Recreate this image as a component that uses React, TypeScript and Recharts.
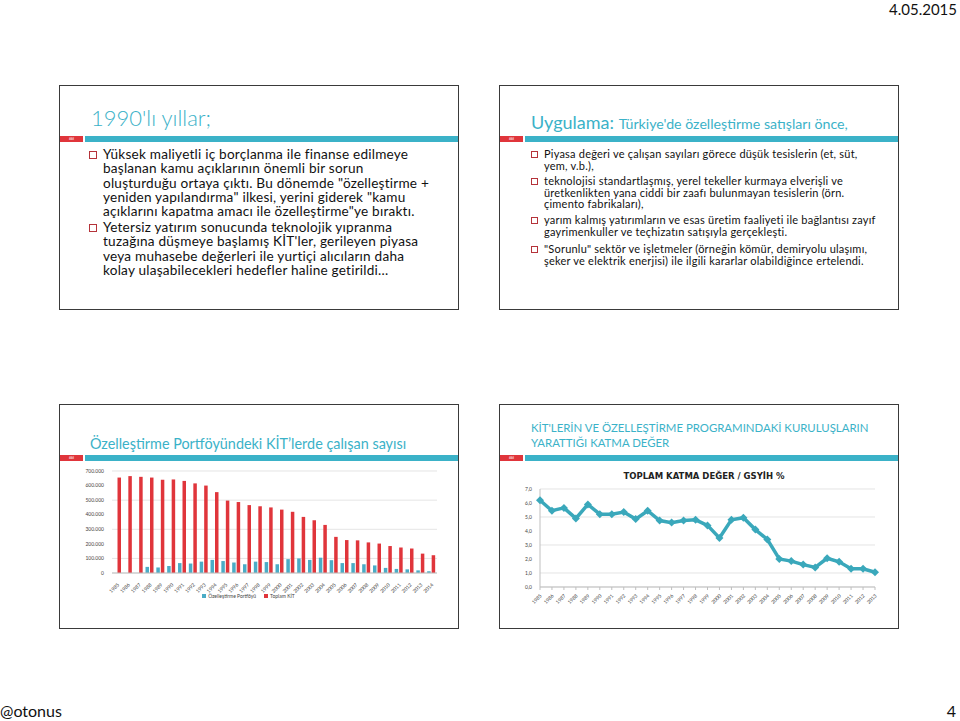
import React from 'react';
import {
  BarChart,
  Bar,
  LineChart,
  Line,
  XAxis,
  YAxis,
  CartesianGrid,
  Legend,
} from 'recharts';

// Çalışan sayısı (1985-2014)
const years1 = [
  '1985', '1986', '1987', '1988', '1989', '1990', '1991', '1992', '1993', '1994',
  '1995', '1996', '1997', '1998', '1999', '2000', '2001', '2002', '2003', '2004',
  '2005', '2006', '2007', '2008', '2009', '2010', '2011', '2012', '2013', '2014',
];
const portfoy = [
  0, 0, 0, 42000, 38000, 48000, 68000, 65000, 78000, 90000,
  82000, 72000, 60000, 78000, 75000, 60000, 95000, 100000, 90000, 105000,
  88000, 68000, 68000, 60000, 52000, 35000, 28000, 25000, 18000, 12000,
];
const toplamKit = [
  655000, 665000, 660000, 655000, 640000, 642000, 632000, 615000, 600000, 555000,
  497000, 487000, 466000, 458000, 450000, 435000, 420000, 385000, 362000, 330000,
  248000, 226000, 224000, 210000, 202000, 185000, 175000, 168000, 133000, 122000,
];
const yTicks1 = [0, 100000, 200000, 300000, 400000, 500000, 600000, 700000];

// Katma değer / GSYİH % (1985-2013)
const years2 = [
  '1985', '1986', '1987', '1988', '1989', '1990', '1991', '1992', '1993', '1994',
  '1995', '1996', '1997', '1998', '1999', '2000', '2001', '2002', '2003', '2004',
  '2005', '2006', '2007', '2008', '2009', '2010', '2011', '2012', '2013',
];
const katmaDeger = [
  6.2, 5.45, 5.65, 4.9, 5.9, 5.2, 5.2, 5.35, 4.85, 5.45,
  4.75, 4.6, 4.75, 4.8, 4.4, 3.5, 4.8, 4.95, 4.1, 3.4,
  2.0, 1.85, 1.6, 1.4, 2.05, 1.8, 1.3, 1.3, 1.05,
];
const yTicks2 = [0, 1, 2, 3, 4, 5, 6, 7];

const barData = years1.map((y, i) => ({ year: y, portfoy: portfoy[i], toplam: toplamKit[i] }));
const lineData = years2.map((y, i) => ({ year: y, value: katmaDeger[i] }));

const TEAL = '#3bb2c8';
const RED = '#e0353b';
const BODY_FONT = 'Lato, "Open Sans", sans-serif';

const RotTick = ({ x, y, payload }: any) => (
  <g transform={`translate(${x},${y + 2})`}>
    <text transform="rotate(-45)" textAnchor="end" fontSize={5} fill="#444" dy={3}>
      {payload.value}
    </text>
  </g>
);

const Diamond = ({ cx, cy, index }: any) => (
  <polygon
    key={`d-${index}`}
    points={`${cx},${cy - 4} ${cx + 4},${cy} ${cx},${cy + 4} ${cx - 4},${cy}`}
    fill="#3aa8bb"
  />
);

const BarLegend = () => (
  <div style={{ display: 'flex', justifyContent: 'center', gap: 8, fontSize: 5, color: '#444', fontFamily: BODY_FONT }}>
    <span><span style={{ display: 'inline-block', width: 4, height: 4, background: '#4bacc6', marginRight: 2 }} />Özelleştirme Portföyü</span>
    <span><span style={{ display: 'inline-block', width: 4, height: 4, background: RED, marginRight: 2 }} />Toplam KİT</span>
  </div>
);

function Slide({ left, top, children }: { left: number; top: number; children: React.ReactNode }) {
  return (
    <div
      style={{
        position: 'absolute',
        left,
        top,
        width: 400,
        height: 225,
        border: '1.5px solid #3a3a3a',
        boxSizing: 'border-box',
        background: '#fff',
      }}
    >
      {children}
    </div>
  );
}

// Kırmızı + turkuaz şerit
function HeaderBar({ y }: { y: number }) {
  return (
    <>
      <div style={{ position: 'absolute', left: 0, top: y, width: 23, height: 6, background: RED, color: '#fff', fontSize: 3, textAlign: 'center', lineHeight: '6px' }}>###</div>
      <div style={{ position: 'absolute', left: 25, top: y, right: 0, height: 6, background: TEAL }} />
    </>
  );
}

function Bullet({ size, lines, lh, fs, ls = 0, top, left }: { size: number; lines: string[]; lh: number; fs: number; ls?: number; top: number; left: number }) {
  return (
    <div style={{ position: 'absolute', left, top, fontFamily: BODY_FONT, fontSize: fs, letterSpacing: ls, lineHeight: `${lh}px`, color: '#111', whiteSpace: 'nowrap' }}>
      <span style={{ position: 'absolute', left: -(size + 6), top: (lh - size) / 2 + 1, width: size - 2, height: size - 2, border: `1px solid #b5333a` }} />
      {lines.map((l, i) => <div key={i}>{l}</div>)}
    </div>
  );
}

export default function App() {
  return (
    <div style={{ position: 'absolute', left: 0, top: 0, width: 960, height: 721, background: '#fff', overflow: 'hidden', fontFamily: BODY_FONT }}>
      <div style={{ position: 'absolute', right: 3, top: 0, fontSize: 15, color: '#111' }}>4.05.2015</div>
      <div style={{ position: 'absolute', left: 0, top: 701, fontSize: 16, color: '#111' }}>@otonus</div>
      <div style={{ position: 'absolute', right: 4, top: 701, fontSize: 16, color: '#111' }}>4</div>

      {/* Slayt 1 */}
      <Slide left={59} top={85}>
        <div style={{ position: 'absolute', left: 31, top: 18, fontSize: 22, color: TEAL, fontWeight: 300 }}>1990'lı yıllar;</div>
        <HeaderBar y={50} />
        <Bullet size={8} fs={13.6} ls={0.22} lh={14.3} left={43} top={61} lines={[
          'Yüksek maliyetli iç borçlanma ile finanse edilmeye',
          'başlanan kamu açıklarının önemli bir sorun',
          'oluşturduğu ortaya çıktı. Bu dönemde "özelleştirme +',
          'yeniden yapılandırma" ilkesi, yerini giderek "kamu',
          'açıklarını kapatma amacı ile özelleştirme"ye bıraktı.',
        ]} />
        <Bullet size={8} fs={13.6} ls={0.22} lh={14.3} left={43} top={134} lines={[
          'Yetersiz yatırım sonucunda teknolojik yıpranma',
          "tuzağına düşmeye başlamış KİT'ler, gerileyen piyasa",
          'veya muhasebe değerleri ile yurtiçi alıcıların daha',
          'kolay ulaşabilecekleri hedefler haline getirildi...',
        ]} />
      </Slide>

      {/* Slayt 2 */}
      <Slide left={499} top={85}>
        <div style={{ position: 'absolute', left: 31, top: 25, color: TEAL, whiteSpace: 'nowrap' }}>
          <span style={{ fontSize: 18 }}>Uygulama: </span>
          <span style={{ fontSize: 14.2 }}>Türkiye'de özelleştirme satışları önce,</span>
        </div>
        <HeaderBar y={50} />
        <Bullet size={7} fs={11} ls={0.22} lh={11.5} left={44} top={62} lines={[
          'Piyasa değeri ve çalışan sayıları görece düşük tesislerin (et, süt,',
          'yem, v.b.),',
        ]} />
        <Bullet size={7} fs={11} ls={0.22} lh={11.5} left={44} top={89} lines={[
          'teknolojisi standartlaşmış, yerel tekeller kurmaya elverişli ve',
          'üretkenlikten yana ciddi bir zaafı bulunmayan tesislerin (örn.',
          'çimento fabrikaları),',
        ]} />
        <Bullet size={7} fs={11} ls={0.22} lh={11.5} left={44} top={128} lines={[
          'yarım kalmış yatırımların ve esas üretim faaliyeti ile bağlantısı zayıf',
          'gayrimenkuller ve teçhizatın satışıyla gerçekleşti.',
        ]} />
        <Bullet size={7} fs={11} ls={0.22} lh={11.5} left={44} top={157} lines={[
          '"Sorunlu" sektör ve işletmeler (örneğin kömür, demiryolu ulaşımı,',
          'şeker ve elektrik enerjisi) ile ilgili kararlar olabildiğince ertelendi.',
        ]} />
      </Slide>

      {/* Slayt 3 */}
      <Slide left={59} top={404}>
        <div style={{ position: 'absolute', left: 30, top: 30, fontSize: 14.4, color: TEAL, whiteSpace: 'nowrap' }}>
          Özelleştirme Portföyündeki KİT’lerde çalışan sayısı
        </div>
        <HeaderBar y={50} />
      </Slide>
      <div style={{ position: 'absolute', left: 60, top: 462 }}>
        <BarChart width={398} height={145} data={barData} margin={{ top: 9, right: 21, bottom: 2, left: 0 }} barGap={1} barCategoryGap="20%">
          <CartesianGrid vertical={false} stroke="#d9d9d9" strokeWidth={0.7} />
          <XAxis dataKey="year" height={20} interval={0} tick={<RotTick />} tickLine={false} axisLine={{ stroke: '#bfbfbf' }} />
          <YAxis
            width={52}
            domain={[0, 700000]}
            ticks={yTicks1}
            tickFormatter={(v: number) => v.toLocaleString('de-DE')}
            tick={{ fontSize: 5, fill: '#444' }}
            axisLine={false}
            tickLine={false}
          />
          <Legend verticalAlign="bottom" height={12} content={<BarLegend />} />
          <Bar dataKey="portfoy" fill="#4bacc6" barSize={3.5} isAnimationActive={false} />
          <Bar dataKey="toplam" fill={RED} barSize={3.5} isAnimationActive={false} />
        </BarChart>
      </div>

      {/* Slayt 4 */}
      <Slide left={499} top={404}>
        <div style={{ position: 'absolute', left: 31, top: 15, fontSize: 11.4, lineHeight: '15px', color: TEAL, whiteSpace: 'nowrap' }}>
          <div>KİT'LERİN VE ÖZELLEŞTİRME PROGRAMINDAKİ KURULUŞLARIN</div>
          <div>YARATTIĞI KATMA DEĞER</div>
        </div>
        <HeaderBar y={50} />
        <div style={{ position: 'absolute', left: 0, right: 0, top: 66, textAlign: 'center', fontSize: 8.5, fontWeight: 700, fontFamily: '"DejaVu Sans", sans-serif', color: '#222', paddingLeft: 10 }}>
          TOPLAM KATMA DEĞER / GSYİH %
        </div>
      </Slide>
      <div style={{ position: 'absolute', left: 500, top: 480 }}>
        <LineChart width={398} height={128} data={lineData} margin={{ top: 9, right: 23, bottom: 3, left: 0 }}>
          <CartesianGrid vertical={false} stroke="#d9d9d9" strokeWidth={0.7} />
          <XAxis dataKey="year" height={18} interval={0} tick={<RotTick />} tickSize={3} tickLine={{ stroke: '#bfbfbf' }} axisLine={{ stroke: '#bfbfbf' }} />
          <YAxis
            width={40}
            domain={[0, 7]}
            ticks={yTicks2}
            tickFormatter={(v: number) => v.toFixed(1).replace('.', ',')}
            tick={{ fontSize: 5, fill: '#444' }}
            axisLine={{ stroke: '#bfbfbf' }}
            tickLine={false}
          />
          <Line type="linear" dataKey="value" stroke="#3aa8bb" strokeWidth={3.5} dot={<Diamond />} isAnimationActive={false} />
        </LineChart>
      </div>
    </div>
  );
}
